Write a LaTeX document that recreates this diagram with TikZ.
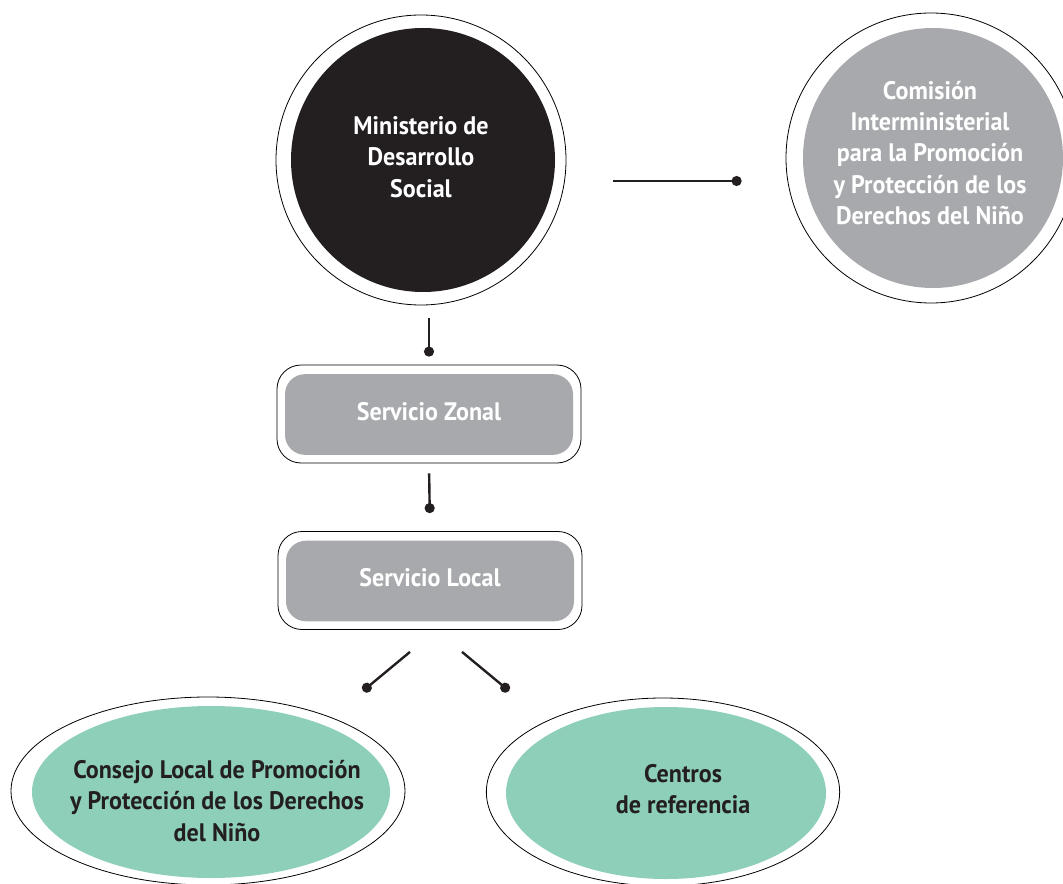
\documentclass[tikz,border=0pt]{standalone}
\usepackage{fontspec}
\setmainfont{PT Sans}[FakeStretch=0.95]
\usetikzlibrary{arrows.meta,positioning,calc,shapes.geometric}
\definecolor{MinBlack}{RGB}{35,31,32}
\definecolor{ServGray}{RGB}{167,169,172}
\definecolor{LocalGreen}{RGB}{141,207,185}

\begin{document}
\begin{tikzpicture}[x=0.75pt, y=-0.75pt,
    ring/.style={
      circle, draw=black, line width=0.6pt, inner sep=0pt,
      minimum size=217.5pt
    },
    disc/.style={
      circle, inner sep=0pt, minimum size=#1
    },
    frame/.style={
      rectangle, rounded corners=18pt, draw=black, line width=0.6pt,
      minimum width=228pt, minimum height=73.5pt, inner sep=0pt
    },
    panel/.style={
      rectangle, rounded corners=15pt, fill=ServGray,
      minimum width=216pt, minimum height=60.5pt, inner sep=0pt
    },
    oval/.style={
      ellipse, draw=black, line width=0.6pt, inner sep=0pt
    },
    blob/.style={
      ellipse, fill=LocalGreen, inner sep=0pt
    },
    lighttext/.style={
      text=white, align=center, font=\bfseries\fontsize{19}{23.5}\selectfont
    },
    darktext/.style={
      text=MinBlack, align=center, font=\bfseries\fontsize{19}{23.5}\selectfont
    },
    link/.style={-{Circle[length=7.5pt]}, line width=1.8pt, draw=MinBlack}
  ]
    \useasboundingbox (0,0) rectangle (1063,884);

    \node[ring] (mds) at (421,160) {};
    \node[disc=198pt, fill=MinBlack] (mdsfill) at (423,160) {};
    \node[lighttext] (mdstext) at (421,157) {Ministerio de\\Desarrollo\\Social};

    \node[ring] (cipd) at (931,158) {};
    \node[disc=195pt, fill=ServGray] (cipdfill) at (933,158) {};
    \node[lighttext] (cipdtext) at (930,153) {Comisión\\Interministerial\\para la Promoción\\y Protección de los\\Derechos del Niño};

    \node[frame] (zonal) at (429,414) {};
    \node[panel] (zonalfill) at (429,414.5) {};
    \node[lighttext] (zonaltext) at (429,412) {Servicio Zonal};

    \node[frame] (local) at (430,580.5) {};
    \node[panel] (localfill) at (430,581) {};
    \node[lighttext] (localtext) at (430,578) {Servicio Local};

    \node[oval, minimum width=295.5pt, minimum height=141pt] (clpd) at (208,791) {};
    \node[blob, minimum width=268.5pt, minimum height=129pt] (clpdfill) at (211,792) {};
    \node[darktext] (clpdtext) at (217,801) {Consejo Local de Promoción\\y Protección de los Derechos\\del Niño};

    \node[oval, minimum width=265pt, minimum height=141pt] (centros) at (663,792) {};
    \node[blob, minimum width=240pt, minimum height=129pt] (centrosfill) at (666,793) {};
    \node[darktext] (centrostext) at (683,789) {Centros\\de referencia};

    \draw[link] ($(mds.east)+(47,21)$) -- ($(cipd.west)+(-44,23)$);
    \draw[link, shorten <=9.75pt, shorten >=6pt] (zonal.north |- mds.south) -- (zonal.north);
    \draw[link, shorten <=7.5pt, shorten >=13.5pt] (zonal.south) -- (local.north);
    \draw[link] ($(local.south)+(-20,22)$) -- ($(local.south)+(-67,61)$);
    \draw[link] ($(local.south)+(32,22)$) -- ($(local.south)+(79,61)$);
  \end{tikzpicture}
\end{document}
